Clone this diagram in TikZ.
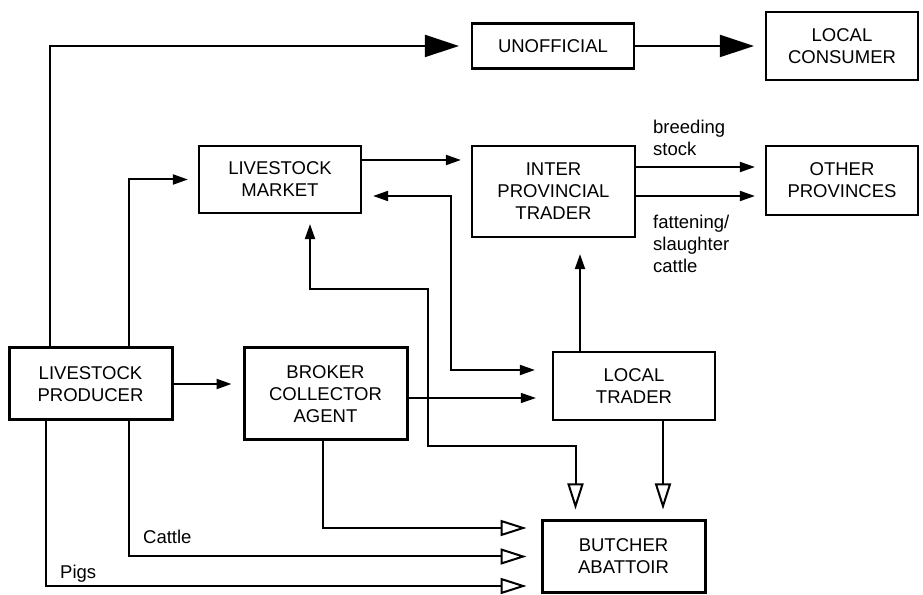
\documentclass[tikz,border=0pt]{standalone}
\usepackage{fontspec}
\setmainfont{Liberation Sans}
\usetikzlibrary{arrows.meta,calc}
\begin{document}
\begin{tikzpicture}[x=1pt,y=1pt,
 font=\fontsize{18.5}{22}\selectfont,
 box/.style={draw,line width=2.2pt,align=center,inner sep=0pt},
 heavybox/.style={box,line width=3pt},
 conn/.style={line width=2pt},
 arr/.style={conn,-{Triangle[length=15pt,width=10pt]}},
 bigarr/.style={conn,-{Triangle[length=34pt,width=22pt]}},
 openarr/.style={conn,-{Triangle[open,length=26pt,width=16pt]}},
 lbl/.style={align=left,inner sep=0pt}]
\useasboundingbox (0,0) rectangle (923,594);
% boxes
\node[box,minimum width=162pt,minimum height=45pt] (unof) at (553,548) {UNOFFICIAL};
\node[box,minimum width=152pt,minimum height=68pt] (cons) at (842,548) {LOCAL\\CONSUMER};
\node[box,minimum width=162pt,minimum height=67pt] (market) at (280,414.5) {LIVESTOCK\\MARKET};
\node[box,minimum width=163pt,minimum height=91pt] (inter) at (553.5,402.5) {INTER\\PROVINCIAL\\TRADER};
\node[box,minimum width=152pt,minimum height=69pt] (other) at (842,413.5) {OTHER\\PROVINCES};
\node[heavybox,minimum width=163pt,minimum height=72pt] (prod) at (90.5,210) {LIVESTOCK\\PRODUCER};
\node[heavybox,minimum width=163pt,minimum height=92pt] (broker) at (325.5,200) {BROKER\\COLLECTOR\\AGENT};
\node[box,minimum width=162pt,minimum height=68pt] (trader) at (634,208) {LOCAL\\TRADER};
\node[heavybox,minimum width=163pt,minimum height=71pt] (butcher) at (623.5,37.5) {BUTCHER\\ABATTOIR};
% labels
\node[lbl,anchor=north west] (lb1) at (653,474.5) {breeding\\stock};
\node[lbl,anchor=north west] (lb2) at (653,379.5) {fattening/\\slaughter\\cattle};
\node[lbl,anchor=base west] (lb3) at (143,50) {Cattle};
\node[lbl,anchor=base west] (lb4) at (60,16) {Pigs};
% connectors
\draw[bigarr] ($(prod.north west)+(42,0)$) |- ($(unof.west)+(-12,0)$);
\draw[bigarr] (unof.east) -- ($(cons.west)+(-11,0)$);
\draw[arr] ($(prod.north west)+(121,0)$) |- ($(market.west)+(-10,0)$);
\draw[arr] (prod.east) -- ($(broker.west |- prod.east)+(-11,0)$);
\draw[arr] ($(market.east)+(0,19.5)$) -- ($(inter.west |- market.east)+(-10,19.5)$);
\draw[conn,{Triangle[length=15pt,width=10pt]}-{Triangle[length=15pt,width=10pt]}]
  ($(market.east)+(11,-16.5)$) -| ($(trader.west)+(-101,16)$) -- ($(trader.west)+(-17,16)$);
\draw[conn,{Triangle[length=15pt,width=10pt]}-{Triangle[open,length=26pt,width=16pt]}]
  ($(market.south)+(30,-10)$) -- ++(0,-65) -- ++(118,0) -- ++(0,-157) -| ($(butcher.north west)+(35,10)$);
\draw[openarr] ($(trader.south)+(29,0)$) -- ($(butcher.north)+(39.5,10)$);
\draw[arr] ($(trader.north)+(-54,0)$) -- ($(inter.south)+(26.5,-16)$);
\draw[arr,line width=1.3pt] ($(broker.east)+(0,-4)$) -- ($(trader.west |- broker.east)+(-16,-4)$);
\draw[openarr] ($(broker.south)+(-2.5,0)$) |- ($(butcher.west)+(-14,28.5)$);
\draw[openarr] ($(prod.south west)+(121,0)$) |- ($(butcher.west)+(-14,0)$);
\draw[openarr] ($(prod.south west)+(38,0)$) |- ($(butcher.west)+(-14,-29.5)$);
\draw[arr] ($(inter.east)+(0,24.5)$) -- ($(other.west |- inter.east)+(-10,24.5)$);
\draw[arr] ($(inter.east)+(0,-4.5)$) -- ($(other.west |- inter.east)+(-10,-4.5)$);
\end{tikzpicture}
\end{document}
